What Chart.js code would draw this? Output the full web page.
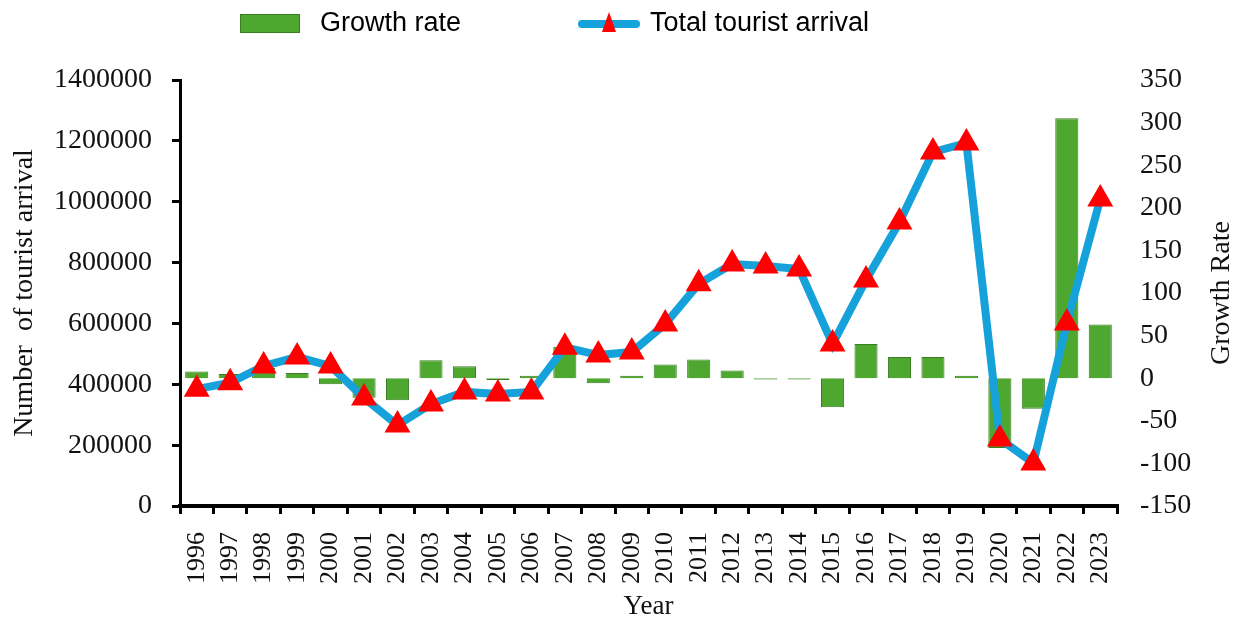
<!DOCTYPE html>
<html>
<head>
<meta charset="utf-8">
<title>Tourist arrival and growth rate</title>
<script src="https://cdn.jsdelivr.net/npm/chart.js@4.4.1/dist/chart.umd.min.js"></script>
<style>
  body { margin: 0; background: #fff; }
  #wrap { width: 1241px; height: 623px; position: relative; }
</style>
</head>
<body>
<div id="wrap"><canvas id="tourismChart"></canvas></div>
<script>
// years on the x axis
const years = ["1996", "1997", "1998", "1999", "2000", "2001", "2002", "2003", "2004", "2005",
  "2006", "2007", "2008", "2009", "2010", "2011", "2012", "2013", "2014", "2015",
  "2016", "2017", "2018", "2019", "2020", "2021", "2022", "2023"];

// total tourist arrivals (left axis)
const arrivals = [384000, 405000, 460000, 490000, 460000, 355000, 266000, 335000, 375000, 368000,
  375000, 522000, 496000, 506000, 598000, 730000, 795000, 789000, 779000, 532000,
  743000, 933000, 1163000, 1193000, 220000, 141000, 601000, 1009000];

// growth rate in percent (right axis)
const growthRate = [8, 5, 12, 6, -7, -23, -26, 21, 14, -2,
  3, 37, -6, 3, 16, 22, 9, -1.5, -1.5, -34,
  40, 25, 25, 3, -82, -36, 305, 63];

// axis tick ranges
const arrivalTicks = { min: 0, max: 1400000, step: 200000 };
const rateTicks = { min: -150, max: 350, step: 50 };

const GREEN = "#4ea72e";
const GREEN_EDGE = "#3a7d22";
const BLUE = "#15a1d9";
const RED = "#ff0000";

Chart.defaults.font.family = "'Liberation Serif', 'Times New Roman', serif";
Chart.defaults.font.size = 27;
Chart.defaults.color = "#111";

// legend across the top, plus the right axis title (reads bottom to top)
const extras = {
  id: "extras",
  afterDraw(chart) {
    const ctx = chart.ctx;
    ctx.save();
    ctx.fillStyle = GREEN;
    ctx.strokeStyle = GREEN_EDGE;
    ctx.lineWidth = 1;
    ctx.fillRect(240, 14, 60, 19);
    ctx.strokeRect(240.5, 14.5, 59, 18);

    ctx.strokeStyle = BLUE;
    ctx.lineWidth = 8;
    ctx.lineCap = "round";
    ctx.beginPath();
    ctx.moveTo(582, 24);
    ctx.lineTo(636, 24);
    ctx.stroke();
    ctx.fillStyle = RED;
    ctx.beginPath();
    ctx.moveTo(609, 12);
    ctx.lineTo(616, 32);
    ctx.lineTo(602, 32);
    ctx.closePath();
    ctx.fill();

    ctx.fillStyle = "#000";
    ctx.font = "27px 'Liberation Sans', Arial, sans-serif";
    ctx.textBaseline = "middle";
    ctx.fillText("Growth rate", 320, 24);
    ctx.fillText("Total tourist arrival", 650, 24);

    const area = chart.chartArea;
    ctx.translate(1222, (area.top + area.bottom) / 2);
    ctx.rotate(-Math.PI / 2);
    ctx.textAlign = "center";
    ctx.fillStyle = "#111";
    ctx.font = "28px 'Liberation Serif', 'Times New Roman', serif";
    ctx.fillText("Growth Rate", 0, 0);
    ctx.restore();
  }
};

new Chart(document.getElementById("tourismChart"), {
  type: "bar",
  data: {
    labels: years,
    datasets: [
      {
        type: "line",
        label: "Total tourist arrival",
        data: arrivals,
        yAxisID: "y",
        borderColor: BLUE,
        borderWidth: 8,
        tension: 0,
        pointStyle: "triangle",
        pointRadius: 15,
        pointBackgroundColor: RED,
        pointBorderColor: RED,
        pointBorderWidth: 0,
        order: 0
      },
      {
        type: "bar",
        label: "Growth rate",
        data: growthRate,
        yAxisID: "y1",
        backgroundColor: GREEN,
        borderColor: GREEN_EDGE,
        borderWidth: 1,
        barPercentage: 0.69,
        categoryPercentage: 1,
        order: 1
      }
    ]
  },
  options: {
    responsive: true,
    maintainAspectRatio: false,
    animation: false,
    layout: { padding: { top: 80, left: 0, right: 0, bottom: 0 } },
    plugins: {
      legend: { display: false },
      tooltip: { enabled: false }
    },
    scales: {
      x: {
        afterFit: (s) => { s.height = 117; },
        grid: {
          offset: true,
          drawOnChartArea: false,
          color: "#000",
          lineWidth: 3,
          tickLength: 8
        },
        border: { color: "#000", width: 4 },
        ticks: {
          autoSkip: false,
          minRotation: 90,
          maxRotation: 90,
          padding: 18,
          font: { size: 26 }
        },
        title: {
          display: true,
          text: "Year",
          font: { size: 27 },
          padding: { top: 0, bottom: 0 }
        }
      },
      y: {
        position: "left",
        min: arrivalTicks.min,
        max: arrivalTicks.max,
        afterFit: (s) => { s.width = 180; },
        grid: {
          drawOnChartArea: false,
          color: "#000",
          lineWidth: 3,
          tickLength: 8
        },
        border: { color: "#000", width: 3 },
        ticks: {
          stepSize: arrivalTicks.step,
          padding: 20,
          font: { size: 28 },
          callback: (v) => String(v)
        },
        title: {
          display: true,
          text: "Number  of tourist arrival",
          font: { size: 28 },
          padding: { top: 8, bottom: 0 }
        }
      },
      y1: {
        position: "right",
        min: rateTicks.min,
        max: rateTicks.max,
        afterFit: (s) => { s.width = 124; },
        grid: { display: false, drawOnChartArea: false, drawTicks: false },
        border: { display: false },
        ticks: {
          stepSize: rateTicks.step,
          padding: 23,
          font: { size: 28 }
        }
      }
    }
  },
  plugins: [extras]
});
</script>
</body>
</html>
